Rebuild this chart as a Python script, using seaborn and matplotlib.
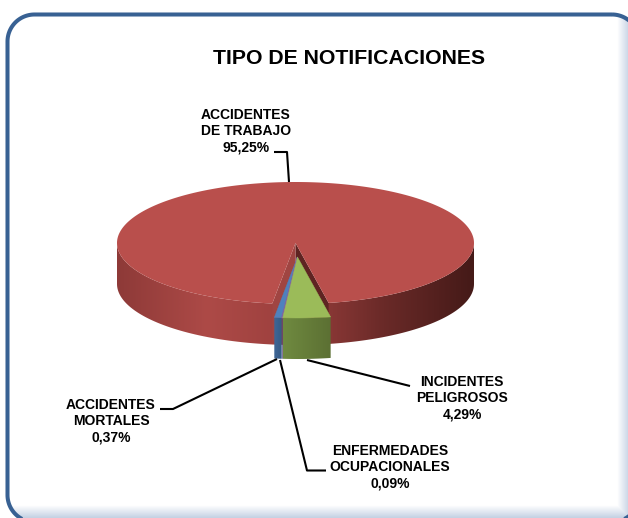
import numpy as np
import matplotlib.pyplot as plt
from matplotlib.patches import Polygon
import seaborn as sns

sns.set_theme(style="white")
plt.rcParams['font.family'] = ['Liberation Sans', 'DejaVu Sans']

labels = ["INCIDENTES\nPELIGROSOS\n4,29%", "ENFERMEDADES\nOCUPACIONALES\n0,09%",
          "ACCIDENTES\nMORTALES\n0,37%", "ACCIDENTES\nDE TRABAJO\n95,25%"]
values = [4.29, 0.09, 0.37, 95.25]
top_colors = ["#9bbb59", "#8064a2", "#4f81bd", "#b94f4c"]
side_colors = [["#6f8a40", "#5c7033"], ["#5d4a78", "#5d4a78"], ["#3e6797", "#355a85"],
               ["#8e3a38", "#ad4a47", "#9b3f3d", "#6a2a28", "#451a18"]]

# geometry of the fake 3d pie, in pixels
cx, cy, rx, ry, depth = 295.5, 243, 178.5, 61, 41
start = 79.3
explode = (2, 14)
min_sweep = {2: 2.4}  # thin slice drawn a bit wider so it stays visible

fig = plt.figure(figsize=(6.28, 5.18), dpi=100)
ax = fig.add_axes([0, 0, 1, 1])
ax.axis("off")


def round_rect(x0, y0, x1, y1, r):
    pts = []
    for ccx, ccy, a0 in [(x1 - r, y0 + r, -90), (x1 - r, y1 - r, 0), (x0 + r, y1 - r, 90), (x0 + r, y0 + r, 180)]:
        t = np.radians(np.linspace(a0, a0 + 90, 30))
        pts.append(np.c_[ccx + r * np.cos(t), ccy + r * np.sin(t)])
    return np.vstack(pts)


# frame, goes past the right and bottom edge of the picture
frame = Polygon(round_rect(7.5, 14.5, 639, 522, 27), closed=True, fc="none", ec="#386193",
                lw=2.9, zorder=3, transform=ax.transData)
ax.add_patch(frame)

# pale inner glow along bottom and right
xx, yy = np.meshgrid(np.arange(628) + 0.5, np.arange(518) + 0.5)
glow = np.maximum(np.clip((yy - 505) / 25, 0, 1), np.clip((xx - 617) / 25, 0, 1))
glow_pal = np.array(sns.blend_palette(["#ffffff", "#8aa4c8"], 100))
im = ax.imshow(glow_pal[(glow * 99).astype(int)], extent=[0, 628, 518, 0], aspect="auto", zorder=1)
im.set_clip_path(frame)


def rim(t, ox=0, oy=0):
    t = np.radians(t)
    return cx + ox + rx * np.cos(t), cy + oy + ry * np.sin(t)


# angle ranges from the values
angles = []
a = start
for i, v in enumerate(values):
    sweep = max(v * 3.6, min_sweep.get(i, 0))
    if i == 3:
        sweep = 360 + start - a
    angles.append((a, a + sweep))
    a += sweep


def draw_side(t0, t1, colors, ox, oy, z):
    ts = np.linspace(t0, t1, 120)
    x, y = rim(ts, ox, oy)
    poly = np.c_[np.r_[x, x[::-1]], np.r_[y, y[::-1] + depth]]
    pal = np.array(sns.blend_palette(colors, 128))[None, :, :]
    g = ax.imshow(pal, extent=[x.min(), x.max(), y.max() + depth, y.min()], aspect="auto",
                  interpolation="bilinear", zorder=z)
    g.set_clip_path(Polygon(poly, transform=ax.transData))


# big red slice, only the front half of the wall shows
draw_side(0, 180, side_colors[3], 0, 0, 4)
t0, t1 = angles[3]
ts = np.linspace(t0, t1, 400)
xs, ys = rim(ts)
# notch walls
xr0, yr0 = rim(start)
ax.fill([cx, xr0, xr0, cx], [cy, yr0, yr0 + depth, cy + depth], color="#5e2422", lw=0, zorder=5)
xl0, yl0 = rim(t0)
ax.fill([cx, xl0, xl0, cx], [cy, yl0, yl0 + depth, cy + depth], color="#a04542", lw=0, zorder=5)
ax.fill(np.r_[cx, xs], np.r_[cy, ys], color=top_colors[3], lw=0, zorder=6)

# exploded slices
for i in (2, 1, 0):
    t0, t1 = angles[i]
    draw_side(t0, t1, side_colors[i], explode[0], explode[1], 7 + (2 - i))
    ts = np.linspace(t0, t1, 30)
    xs, ys = rim(ts, *explode)
    ax.fill(np.r_[cx + explode[0], xs], np.r_[cy + explode[1], ys], color=top_colors[i],
            lw=0.8 if i == 1 else 0.3, ec=top_colors[i], zorder=11 + (2 - i))

ax.text(349.5, 58, "TIPO DE NOTIFICACIONES", ha="center", va="center", fontsize=15.3,
        fontweight="bold", color="black", zorder=20)

# data labels and leader lines
label_pos = [(462, 398), (390, 467), (111, 421), (246, 131)]
leaders = [[(307, 360), (410, 386)], [(280, 360), (307, 470.5), (326, 470.5)],
           [(277, 359), (173, 409), (160, 409)], [(289, 182), (287, 152), (274, 152)]]
for lab, pos, pts in zip(labels, label_pos, leaders):
    ax.text(pos[0], pos[1], lab, ha="center", va="center", fontsize=10, fontweight="bold",
            color="black", linespacing=1.2, zorder=20)
    px, py = zip(*pts)
    ax.plot(px, py, color="black", lw=1.5, zorder=20, solid_capstyle="butt")

ax.set_xlim(0, 628)
ax.set_ylim(518, 0)
fig.savefig("out.png", dpi=100)
